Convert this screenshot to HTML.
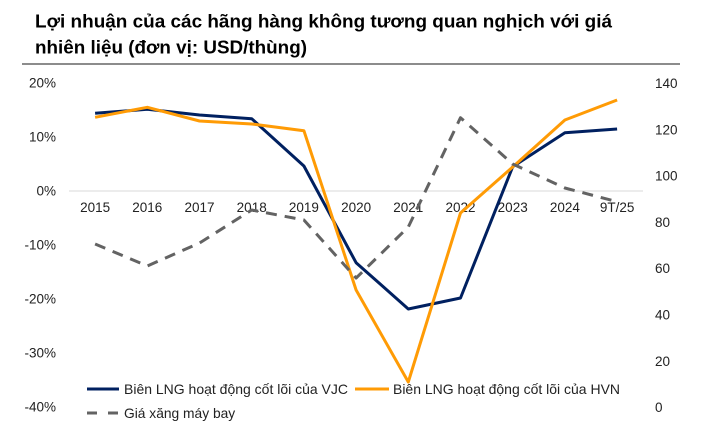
<!DOCTYPE html>
<html><head><meta charset="utf-8">
<style>
html,body{margin:0;padding:0;background:#fff;}
svg{display:block;}
text{font-family:"Liberation Sans",Arial,sans-serif;}
</style></head>
<body>
<svg width="712" height="429" viewBox="0 0 712 429" xmlns="http://www.w3.org/2000/svg">
<rect width="712" height="429" fill="#fff"/>
<text x="35" y="27.5" font-size="18.5" font-weight="bold" fill="#000" textLength="577" lengthAdjust="spacingAndGlyphs">Lợi nhuận của các hãng hàng không tương quan nghịch với giá</text>
<text x="35" y="53.5" font-size="18.5" font-weight="bold" fill="#000" textLength="272" lengthAdjust="spacingAndGlyphs">nhiên liệu (đơn vị: USD/thùng)</text>
<line x1="22" y1="64" x2="680" y2="64" stroke="#8c8c8c" stroke-width="2"/>

<line x1="69" y1="191" x2="643" y2="191" stroke="#d9d9d9" stroke-width="1"/>

<g font-size="13.5" fill="#222" text-anchor="end">
<text x="56" y="87.5">20%</text>
<text x="56" y="141.5">10%</text>
<text x="56" y="195.5">0%</text>
<text x="56" y="249.5">-10%</text>
<text x="56" y="303.5">-20%</text>
<text x="56" y="357.5">-30%</text>
<text x="56" y="411.5">-40%</text>
</g>
<g font-size="13.5" fill="#222" text-anchor="start">
<text x="655" y="88">140</text>
<text x="655" y="134.3">120</text>
<text x="655" y="180.6">100</text>
<text x="655" y="226.9">80</text>
<text x="655" y="273.2">60</text>
<text x="655" y="319.5">40</text>
<text x="655" y="365.8">20</text>
<text x="655" y="412">0</text>
</g>
<g font-size="13.5" fill="#222" text-anchor="middle">
<text x="95.1" y="212">2015</text>
<text x="147.3" y="212">2016</text>
<text x="199.5" y="212">2017</text>
<text x="251.7" y="212">2018</text>
<text x="303.9" y="212">2019</text>
<text x="356.1" y="212">2020</text>
<text x="408.3" y="212">2021</text>
<text x="460.5" y="212">2022</text>
<text x="512.7" y="212">2023</text>
<text x="564.9" y="212">2024</text>
<text x="617.1" y="212">9T/25</text>
</g>

<polyline fill="none" stroke="#002060" stroke-width="3" stroke-linejoin="round"
points="95.1,113.3 147.3,109.3 199.5,115 251.7,118.7 303.9,166 356.1,262.7 408.3,309 460.5,298 512.7,166.7 564.9,132.7 617.1,129"/>
<polyline fill="none" stroke="#ff9b05" stroke-width="3" stroke-linejoin="round"
points="95.1,117.3 147.3,107.3 199.5,121 251.7,124 303.9,130.7 356.1,290 408.3,382 460.5,213 512.7,167 564.9,120 617.1,100"/>
<polyline fill="none" stroke="#636363" stroke-width="3" stroke-dasharray="11 8" stroke-linejoin="round"
points="95.1,244 147.3,266 199.5,243 251.7,210 303.9,220 356.1,278 408.3,227 460.5,117.7 512.7,164 564.9,188 617.1,201.7"/>

<line x1="87" y1="389" x2="119" y2="389" stroke="#002060" stroke-width="3"/>
<text x="124" y="394" font-size="13.8" fill="#222" textLength="224" lengthAdjust="spacingAndGlyphs">Biên LNG hoạt động cốt lõi của VJC</text>
<line x1="355" y1="389" x2="389" y2="389" stroke="#ff9b05" stroke-width="3"/>
<text x="393" y="394" font-size="13.8" fill="#222" textLength="227" lengthAdjust="spacingAndGlyphs">Biên LNG hoạt động cốt lõi của HVN</text>
<line x1="87" y1="413" x2="119" y2="413" stroke="#636363" stroke-width="3" stroke-dasharray="10 11"/>
<text x="124" y="418" font-size="13.8" fill="#222">Giá xăng máy bay</text>
</svg>
</body></html>
